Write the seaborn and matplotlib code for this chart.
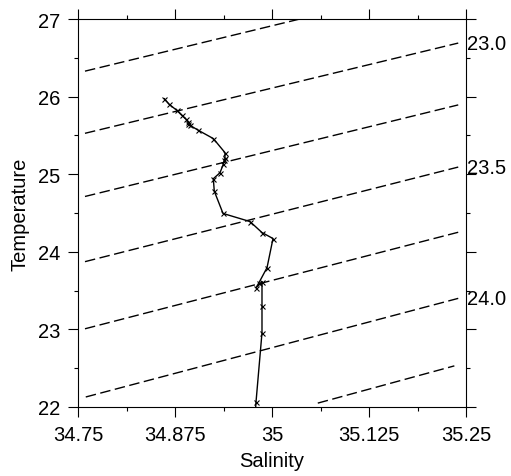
import numpy as np
import pandas as pd
import matplotlib
matplotlib.use("Agg")
import matplotlib.pyplot as plt
import matplotlib.transforms as mtrans
from matplotlib.ticker import FixedLocator, MultipleLocator
import seaborn as sns

# Profile (salinity, temperature)
salinity = [34.8612, 34.8673, 34.8772, 34.8836, 34.8892, 34.8914, 34.8921, 34.8943,
            34.9050, 34.9244, 34.9394, 34.9394, 34.9385, 34.9372, 34.9330, 34.9244,
            34.9256, 34.9369, 34.9716, 34.9871, 35.0013, 34.9936, 34.9832, 34.9794,
            34.9871, 34.9871, 34.9871, 34.9794, 34.9780]
temperature = [25.975, 25.902, 25.824, 25.760, 25.708, 25.673, 25.652, 25.630,
               25.566, 25.459, 25.278, 25.204, 25.182, 25.127, 25.019, 24.942,
               24.782, 24.494, 24.390, 24.248, 24.171, 23.796, 23.602, 23.537,
               23.615, 23.305, 22.956, 22.065, 21.850]

# Isopycnal (sigma-t) dashed lines: start / end points
iso_levels = [22.75, 23.0, 23.25, 23.5, 23.75, 24.0, 24.25]
iso_s0 = [34.759, 34.759, 34.759, 34.759, 34.759, 34.760, 35.059]
iso_t0 = [26.328, 25.527, 24.713, 23.873, 23.008, 22.129, 22.050]
iso_s1 = [35.036, 35.240, 35.240, 35.240, 35.240, 35.240, 35.235]
iso_t1 = [27.000, 26.690, 25.893, 25.092, 24.252, 23.400, 22.530]
iso_labelled = ["23.0", "23.5", "24.0"]

x_ticks = [34.75, 34.875, 35.0, 35.125, 35.25]
x_ticklabels = ["34.75", "34.875", "35", "35.125", "35.25"]
x_minor = [34.8125, 34.9375, 35.0625, 35.1875]
y_ticks = [22, 23, 24, 25, 26, 27]
y_ticklabels = ["22", "23", "24", "25", "26", "27"]

sns.set_style("ticks")
plt.rcParams["font.family"] = ["Liberation Sans", "DejaVu Sans"]
plt.rcParams["text.color"] = "black"
plt.rcParams["axes.labelcolor"] = "black"
plt.rcParams["xtick.color"] = "black"
plt.rcParams["ytick.color"] = "black"
FS = 14.5

fig = plt.figure(figsize=(5.11, 4.77), dpi=100)
ax = fig.add_axes([78 / 511, 69 / 477, 388 / 511, 388 / 477])

lw_d = 1.0
dash = (0, (10.5 * 0.72 / lw_d, 4.5 * 0.72 / lw_d))
for lev, s0, t0, s1, t1 in zip(iso_levels, iso_s0, iso_t0, iso_s1, iso_t1):
    ax.plot([s0, s1], [t0, t1], color="black", lw=lw_d, linestyle=dash)

df = pd.DataFrame({"Salinity": salinity, "Temperature": temperature})
sns.lineplot(data=df, x="Salinity", y="Temperature", sort=False, estimator=None,
             color="black", lw=1.0, marker="x", markersize=3.6,
             markeredgewidth=0.8, markeredgecolor="black", ax=ax)

ax.set_xlim(34.75, 35.25)
ax.set_ylim(22, 27)
ax.xaxis.set_major_locator(FixedLocator(x_ticks))
ax.set_xticklabels(x_ticklabels)
ax.xaxis.set_minor_locator(FixedLocator(x_minor))
ax.yaxis.set_major_locator(FixedLocator(y_ticks))
ax.set_yticklabels(y_ticklabels)
ax.yaxis.set_minor_locator(MultipleLocator(0.5))

ax.tick_params(which="both", direction="out", top=True, right=True,
               labeltop=False, labelright=False, color="black", width=0.8,
               labelcolor="black")
ax.tick_params(which="major", length=7, labelsize=FS, pad=6)
ax.tick_params(which="minor", length=3)
for sp in ax.spines.values():
    sp.set_visible(True)
    sp.set_linewidth(0.8)
    sp.set_color("black")

ax.set_xlabel("Salinity", fontsize=FS, labelpad=5, color="black")
ax.set_ylabel("Temperature", fontsize=FS, labelpad=6, color="black")

trans = mtrans.blended_transform_factory(ax.transAxes, ax.transData)
for lev, t1 in zip(iso_levels, iso_t1):
    lab = f"{lev:.1f}"
    if lab in iso_labelled and abs(lev * 2 - round(lev * 2)) < 1e-9:
        ax.text(1.003, t1, lab, transform=trans, ha="left", va="center",
                fontsize=FS, color="black", clip_on=False)

fig.savefig("out.png", dpi=100)
